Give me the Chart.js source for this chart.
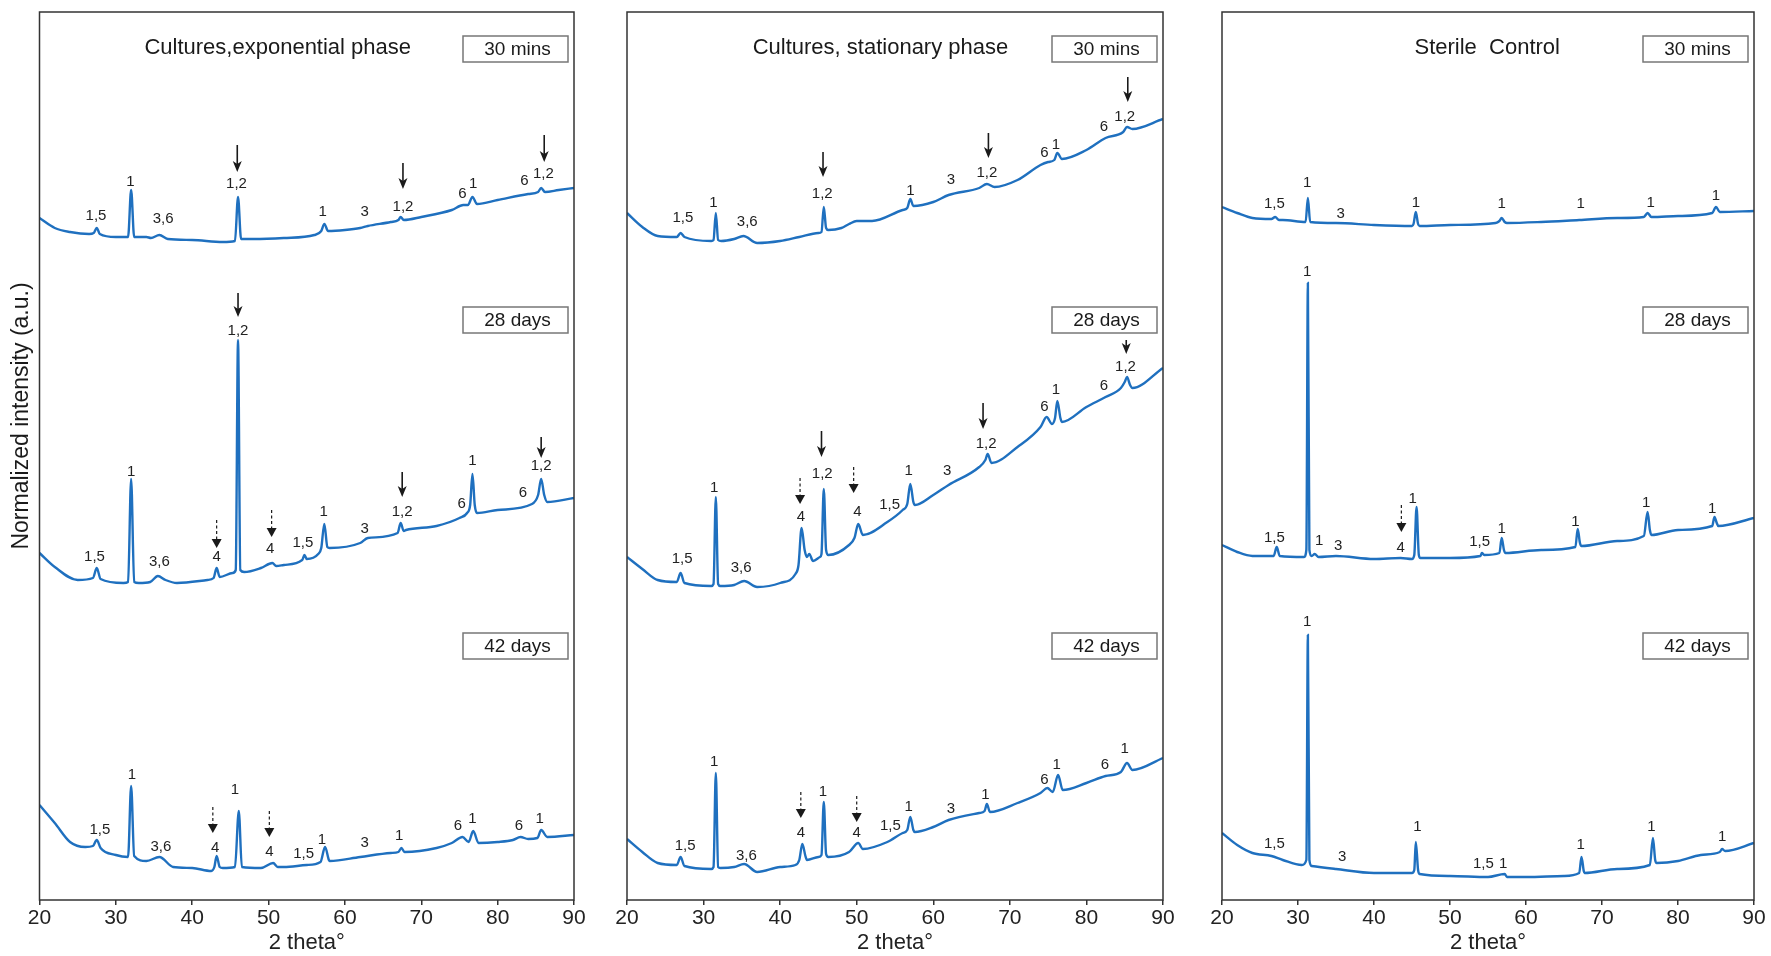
<!DOCTYPE html>
<html>
<head>
<meta charset="utf-8">
<script src="https://cdn.jsdelivr.net/npm/chart.js@4.4.1/dist/chart.umd.min.js"></script>
<style>
  body { margin: 0; background: #fff; width: 1771px; height: 956px; position: relative; overflow: hidden; }
  canvas { position: absolute; top: 0; }
</style>
</head>
<body>
<canvas id="expo" width="600" height="956" style="left:0"></canvas>
<canvas id="stat" width="585" height="956" style="left:600px"></canvas>
<canvas id="ster" width="586" height="956" style="left:1185px"></canvas>
<script>
// 2 theta (deg), intensity in arbitrary units (traces already offset)
const timeLabels = ['30 mins', '28 days', '42 days'];
const xTicks = [20, 30, 40, 50, 60, 70, 80, 90];

// Cultures, exponential phase
const expo30 = [[20,682],[22,672],[24,668],[26.5,666],[27.1,667],[27.5,672],[27.9,666],[30,663],[31.6,663],[32,710],[32.4,663],[34,663],[34.6,662],[35.7,665],[36.8,661],[40,660],[44,658],[45.6,659],[46,703],[46.4,661],[48,661],[52,662],[56,665],[56.9,669],[57.3,676],[57.8,669],[60,670],[62,672],[63,674],[66,678],[67,680],[67.3,683],[67.7,680],[70,683],[74,690],[75.5,695],[76.1,695],[76.7,703],[77.3,696],[80,700],[84,706],[85.3,708],[85.7,712],[86.2,708],[88,710],[90,712]];
const expo28 = [[20,347],[22,333],[25,320],[27,322],[27.5,332],[28,321],[31,317],[31.6,318],[32,421],[32.4,318],[33,317],[34.5,318],[35.5,324],[36.5,320],[38,317],[42,320],[42.8,322],[43.2,332],[43.6,323],[45.3,327],[45.7,330],[46,560],[46.3,330],[46.8,328],[49,332],[50.5,337],[51,334],[52,335],[54.4,340],[54.7,345],[55,341],[56.5,346],[56.9,352],[57.3,376],[57.7,353],[58,352],[62,357],[63,362],[66.9,367],[67.3,377],[67.7,369],[68,370],[72,374],[75,382],[76,387],[76.4,395],[76.7,426],[77,395],[77.3,387],[80,390],[84.5,396],[85.3,405],[85.7,421],[86.1,405],[86.5,398],[90,402]];
const expo42 = [[20,95],[22,77],[24,58],[26,53],[27,54],[27.5,60],[28,52],[30,45],[31.6,43],[32,114],[32.4,44],[34,39],[35.7,43],[37.5,33],[40,32],[42.5,29],[42.9,33],[43.2,44],[43.6,33],[44,32],[45.6,33],[46.1,89],[46.5,33],[49,32],[50.6,37],[51.2,33],[52,33],[55,35],[56.8,38],[57.4,53],[57.9,40],[58,39],[62,43],[66,47],[67,48],[67.4,52],[67.8,48],[72,52],[74,57],[75.4,63],[76.2,58],[76.8,69],[77.5,57],[80,58],[82,60],[83,63],[84,61],[85.2,62],[85.7,70],[86.5,63],[90,65]];

// Cultures, stationary phase
const stat30 = [[20,687],[22,673],[24,664],[26.5,663],[27,667],[27.5,663],[31,659],[31.3,660],[31.6,687],[31.9,660],[32.3,659],[34,661],[35.2,664],[37,657],[40,659],[42.5,663],[45,667],[45.4,668],[45.7,693],[46,672],[46.3,670],[48,672],[49,676],[50,679],[52,679],[56,690],[56.6,692],[57,701],[57.4,694],[60,698],[62,705],[66,712],[67,716],[68,713],[71,720],[74,735],[75,738],[75.8,740],[76.2,747],[76.8,741],[80,750],[82.5,762],[84.8,768],[85.3,773],[86,771],[90,781]];
const stat28 = [[20,343],[22,331],[24,320],[26.5,318],[27,327],[27.5,317],[31,314],[31.3,316],[31.6,403],[31.9,316],[32.2,314],[34,315],[35.3,319],[37,313],[40,317],[42,326],[42.4,335],[42.8,372],[43.2,350],[43.5,343],[43.8,346],[44.3,339],[45.2,343],[45.4,346],[45.7,411],[46,350],[46.3,345],[49,355],[49.7,362],[50.2,376],[50.8,365],[54,378],[56,390],[56.6,396],[57,416],[57.4,398],[57.6,395],[60,405],[62,415],[66,433],[66.8,440],[67.1,446],[67.6,437],[71,453],[74,473],[74.8,483],[75.5,476],[75.9,482],[76.2,499],[76.6,482],[76.8,478],[80,493],[82.5,503],[84.5,512],[85,518],[85.3,523],[85.7,515],[86,512],[90,532]];
const stat42 = [[20,61],[22,48],[24,37],[26.5,35],[27,43],[27.5,34],[31,31],[31.3,33],[31.6,127],[31.9,33],[32.2,32],[34,33],[35.3,36],[37,28],[40,33],[42,35],[42.5,40],[42.9,56],[43.3,44],[43.5,40],[45,43],[45.4,45],[45.7,98],[46,46],[46.3,43],[49,48],[50.2,57],[50.8,51],[54,58],[56,67],[56.6,70],[57,83],[57.4,70],[57.6,68],[60,73],[62,80],[66,87],[66.7,89],[67,96],[67.4,88],[71,97],[74,107],[74.9,112],[75.6,108],[76.3,125],[76.9,110],[80,117],[82.5,124],[84.5,128],[85.3,137],[86,130],[90,142]];

// Sterile control
const ster30 = [[20,693],[22,687],[24,682],[26.5,681],[27,683],[27.5,680],[28,680],[31,678],[31.3,702],[31.6,678],[35,677],[40,675],[45,674],[45.2,676],[45.5,688],[45.8,676],[46,674],[50,675],[56,677],[56.5,679],[56.8,682],[57.2,678],[57.5,677],[62,678],[67,680],[72,682],[75.5,683],[76,687],[76.5,683],[80,684],[84.5,687],[85,693],[85.5,688],[90,689]];
const ster28 = [[20,355],[22,348],[24,344],[26.8,344],[27.2,353],[27.6,344],[30.8,343],[31.1,350],[31.3,617],[31.5,350],[31.8,344],[32.2,346],[32.7,343],[35,344],[40,341],[43.5,342],[45,341],[45.3,345],[45.6,393],[45.9,345],[46.1,342],[50,342],[54,344],[54.2,347],[54.5,345],[56.5,347],[56.8,362],[57.1,350],[57.3,347],[62,350],[66.5,353],[66.8,371],[67.1,357],[67.3,354],[72,359],[75.5,364],[76,388],[76.3,370],[76.5,365],[80,370],[84.5,374],[84.8,383],[85.1,377],[85.3,374],[90,382]];
const ster42 = [[20,67],[22,55],[24,47],[26.5,44],[28,40],[30.5,35],[31.1,40],[31.3,265],[31.5,40],[31.8,34],[35,31],[40,27],[43.5,27],[45,27],[45.3,30],[45.5,58],[45.8,30],[46,26],[50,24],[55,23],[57.2,26],[57.5,23],[60,23],[65,24],[67,27],[67.3,43],[67.6,29],[67.7,27],[72,31],[76.3,35],[76.7,62],[77,40],[77.2,37],[80,39],[83,45],[85.5,48],[85.8,51],[86.2,49],[90,57]];

// peak labels: [2theta, intensity, text]
const expoLabels = [
  [27.4,684,'1,5'],[31.9,718,'1'],[36.2,681,'3,6'],[45.8,716,'1,2'],[57.1,688,'1'],[62.6,688,'3'],[67.6,693,'1,2'],[75.4,706,'6'],[76.8,716,'1'],[83.5,719,'6'],[86,726,'1,2'],
  [27.2,343,'1,5'],[32,428,'1'],[35.7,338,'3,6'],[43.2,343,'4'],[46,569,'1,2'],[50.2,351,'4'],[54.5,357,'1,5'],[57.2,388,'1'],[62.6,371,'3'],[67.5,388,'1,2'],[75.3,396,'6'],[76.7,439,'1'],[83.3,407,'6'],[85.7,434,'1,2'],
  [27.9,70,'1,5'],[32.1,125,'1'],[35.9,53,'3,6'],[43,52,'4'],[45.6,110,'1'],[50.1,48,'4'],[54.6,46,'1,5'],[57,60,'1'],[62.6,57,'3'],[67.1,64,'1'],[74.8,74,'6'],[76.7,81,'1'],[82.8,74,'6'],[85.5,81,'1']
];
const statLabels = [
  [27.3,682,'1,5'],[31.3,697,'1'],[35.7,678,'3,6'],[45.5,706,'1,2'],[57,709,'1'],[62.3,720,'3'],[67,727,'1,2'],[74.5,747,'6'],[76,755,'1'],[82.3,773,'6'],[85,783,'1,2'],
  [27.2,341,'1,5'],[31.4,412,'1'],[34.9,332,'3,6'],[42.7,383,'4'],[45.5,426,'1,2'],[50.1,388,'4'],[54.3,395,'1,5'],[56.8,429,'1'],[61.8,429,'3'],[66.9,456,'1,2'],[74.5,493,'6'],[76,510,'1'],[82.3,514,'6'],[85.1,533,'1,2'],
  [27.6,54,'1,5'],[31.4,138,'1'],[35.6,44,'3,6'],[42.7,67,'4'],[45.6,108,'1'],[50,67,'4'],[54.4,74,'1,5'],[56.8,93,'1'],[62.3,91,'3'],[66.8,105,'1'],[74.5,120,'6'],[76.1,135,'1'],[82.4,135,'6'],[85,151,'1']
];
const sterLabels = [
  [26.9,696,'1,5'],[31.2,717,'1'],[35.6,686,'3'],[45.5,697,'1'],[56.8,696,'1'],[67.2,696,'1'],[76.4,697,'1'],[85,704,'1'],
  [31.2,628,'1'],[26.9,362,'1,5'],[32.8,359,'1'],[35.3,354,'3'],[43.5,352,'4'],[45.1,401,'1'],[53.9,358,'1,5'],[56.8,371,'1'],[66.5,378,'1'],[75.8,397,'1'],[84.5,391,'1'],
  [31.2,278,'1'],[26.9,56,'1,5'],[35.8,43,'3'],[45.7,73,'1'],[54.4,36,'1,5'],[57,36,'1'],[67.2,55,'1'],[76.5,73,'1'],[85.8,63,'1']
];

// arrows: [2theta, from, to, dashed]
const expoArrows = [
  [45.9,755,728,false],[67.6,737,711,false],[86.1,765,738,false],
  [46,607,583,false],[43.2,380,352,true],[50.4,390,363,true],[67.5,428,403,false],[85.7,463,442,false],
  [42.7,93,67,true],[50.1,89,63,true]
];
const statArrows = [
  [45.6,748,723,false],[67.2,767,742,false],[85.4,823,798,false],
  [42.6,422,396,true],[45.4,469,443,false],[49.6,433,407,true],[66.5,497,471,false],[85.2,560,546,false],
  [42.7,108,82,true],[50,104,78,true]
];
const sterArrows = [[43.6,395,368,true]];

const FONT = "'Liberation Sans', Arial, sans-serif";
const BLUE = '#1f70bf';

const decor = {
  id: 'decor',
  afterDraw(chart, args, o) {
    const {ctx, chartArea: a, scales: {x, y}} = chart;
    ctx.save();
    ctx.strokeStyle = '#333';
    ctx.lineWidth = 1.5;
    ctx.strokeRect(a.left, a.top, a.right - a.left, a.bottom - a.top);

    ctx.fillStyle = '#1a1a1a';
    ctx.textAlign = 'center';
    ctx.textBaseline = 'middle';
    ctx.font = '22px ' + FONT;
    ctx.fillText(o.title, x.getPixelForValue(o.titleAt), y.getPixelForValue(852));

    if (o.yTitle) {
      ctx.save();
      ctx.translate(a.left - 18, y.getPixelForValue(484));
      ctx.rotate(-Math.PI / 2);
      ctx.font = '23px ' + FONT;
      ctx.fillText(o.yTitle, 0, 0);
      ctx.restore();
    }

    // time boxes
    ctx.font = '19px ' + FONT;
    [851, 580, 254].forEach((v, i) => {
      const cy = y.getPixelForValue(v);
      const r = a.right - 6, w = 105, h = 26;
      ctx.strokeStyle = '#777';
      ctx.lineWidth = 1.5;
      ctx.strokeRect(r - w, cy - h / 2, w, h);
      ctx.fillStyle = '#1a1a1a';
      ctx.fillText(timeLabels[i], r - w / 2 + 2, cy + 1);
    });

    ctx.font = '15px ' + FONT;
    ctx.fillStyle = '#222';
    o.labels.forEach(([px, py, t]) => ctx.fillText(t, x.getPixelForValue(px), y.getPixelForValue(py)));

    o.arrows.forEach(([px, from, to, dashed]) => {
      const cx = x.getPixelForValue(px), y1 = y.getPixelForValue(from), y2 = y.getPixelForValue(to);
      ctx.strokeStyle = '#1a1a1a';
      ctx.fillStyle = '#1a1a1a';
      ctx.beginPath();
      if (dashed) {
        ctx.setLineDash([3, 2.5]);
        ctx.lineWidth = 1.2;
        ctx.moveTo(cx, y1);
        ctx.lineTo(cx, y2 - 8);
        ctx.stroke();
        ctx.setLineDash([]);
        ctx.beginPath();
        ctx.moveTo(cx - 5, y2 - 9);
        ctx.lineTo(cx + 5, y2 - 9);
        ctx.lineTo(cx, y2);
        ctx.closePath();
        ctx.fill();
      } else {
        ctx.lineWidth = 1.6;
        ctx.moveTo(cx, y1);
        ctx.lineTo(cx, y2 - 6);
        ctx.stroke();
        ctx.beginPath();
        ctx.moveTo(cx, y2);
        ctx.lineTo(cx - 4.5, y2 - 11);
        ctx.lineTo(cx, y2 - 8);
        ctx.lineTo(cx + 4.5, y2 - 11);
        ctx.closePath();
        ctx.fill();
      }
    });
    ctx.restore();
  }
};

function panel(id, series, pad, title, titleAt, labels, arrows, yTitle) {
  return new Chart(document.getElementById(id), {
    type: 'line',
    data: {
      datasets: series.map(s => ({
        data: s.map(([x, y]) => ({x, y})),
        borderColor: BLUE,
        borderWidth: 2.4,
        pointRadius: 0,
        cubicInterpolationMode: 'monotone',
        fill: false
      }))
    },
    options: {
      responsive: false,
      animation: false,
      devicePixelRatio: 1,
      layout: {padding: {left: pad[0], right: pad[1], top: 12, bottom: 0}},
      scales: {
        x: {
          type: 'linear', min: 20, max: 90,
          afterBuildTicks: s => { s.ticks = xTicks.map(v => ({value: v})); },
          afterFit: s => { s.height = 56; },
          grid: {display: true, drawOnChartArea: false, drawTicks: true, tickLength: 5, color: '#333', lineWidth: 1.5},
          border: {display: false},
          ticks: {font: {family: FONT, size: 21}, color: '#222', padding: 1, maxRotation: 0, autoSkip: false},
          title: {display: true, text: '2 theta°', font: {family: FONT, size: 22}, color: '#222', padding: {top: 0, bottom: 0}}
        },
        y: {display: false, min: 0, max: 888}
      },
      plugins: {
        legend: {display: false},
        tooltip: {enabled: false},
        decor: {title, titleAt, labels, arrows, yTitle}
      }
    },
    plugins: [decor]
  });
}

panel('expo', [expo30, expo28, expo42], [39.5, 26], 'Cultures,exponential phase', 51.2, expoLabels, expoArrows, 'Normalized intensity (a.u.)');
panel('stat', [stat30, stat28, stat42], [27, 22], 'Cultures, stationary phase', 53.1, statLabels, statArrows);
panel('ster', [ster30, ster28, ster42], [37, 17], 'Sterile  Control', 54.9, sterLabels, sterArrows);
</script>
</body>
</html>
